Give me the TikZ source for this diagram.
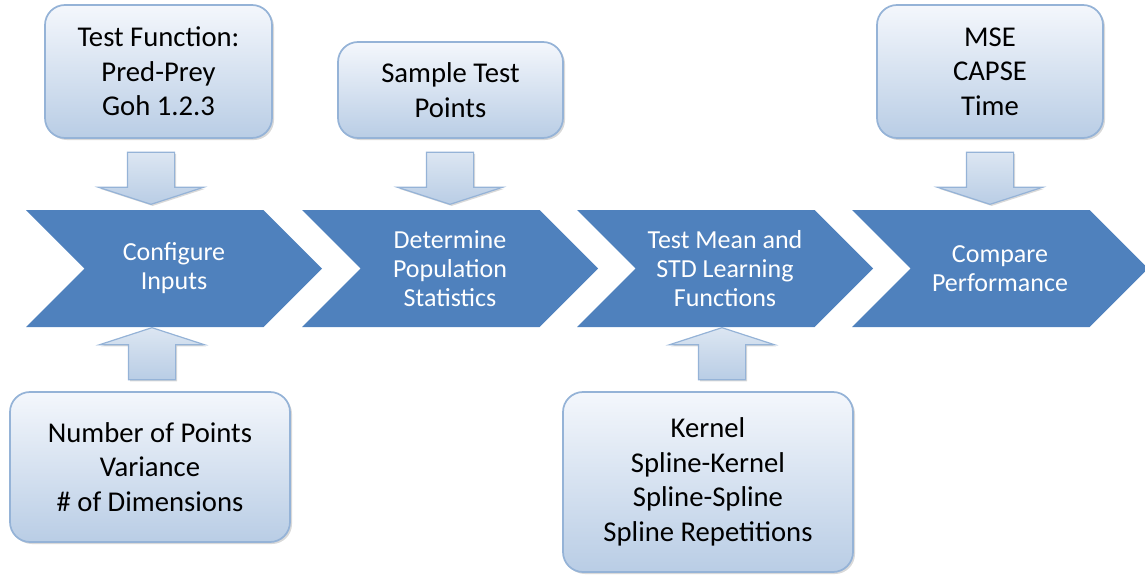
\documentclass[tikz,border=0pt]{standalone}
\usepackage{fontspec}
\setmainfont{Carlito}
\usetikzlibrary{shapes.arrows,shapes.symbols,shadows}
\definecolor{chevblue}{HTML}{4F81BD}
\definecolor{boxline}{HTML}{95B3D7}
\definecolor{boxtop}{HTML}{F4F7FC}
\definecolor{boxbot}{HTML}{B9CDE5}
\definecolor{arrtop}{HTML}{DCE6F2}

\tikzset{
	stage/.style={signal, signal from=west, signal to=east, signal pointer angle=90,
		fill=chevblue, text=white, inner sep=0pt, minimum width=222pt, minimum height=87.75pt,
		align=center, font=\fontsize{19.5}{21.75}\selectfont},
	infobox/.style={rectangle, rounded corners=15pt, draw=boxline, line width=1.3pt,
		top color=boxtop, bottom color=boxbot,
		drop shadow={shadow xshift=1.5pt, shadow yshift=-1.5pt, opacity=0.3},
		align=center, font=\fontsize{21.5}{26}\selectfont},
	blockarrow/.style={single arrow, draw=boxline, line width=0.9pt, inner sep=0pt,
		top color=arrtop, bottom color=boxbot,
		drop shadow={shadow xshift=1.2pt, shadow yshift=-1.2pt, opacity=0.3},
		minimum height=39pt, minimum width=78pt,
		single arrow head extend=21.75pt, single arrow tip angle=144}
}
% shaft of a block arrow
\newcommand{\shaft}{\rule{34.5pt}{0pt}}

\begin{document}
\begin{tikzpicture}[x=0.75pt, y=-0.75pt]
	%%%%% START %%%%%
	\useasboundingbox (0, 0) rectangle (1145, 575);
	
	% process steps
	\node[stage] (cfg) at (174, 268.5) {Configure\\Inputs};
	\node[stage] (dps) at (450, 268.5) {Determine\\Population\\Statistics};
	\node[stage] (tml) at (725, 268.5) {Test Mean and\\STD Learning\\Functions};
	\node[stage] (cmp) at (1000, 268.5) {Compare\\Performance};
	
	% inputs
	\node[infobox, minimum width=170.25pt, minimum height=99.75pt] (tfun) at (158.5, 71.5) {Test Function:\\Pred-Prey\\Goh 1.2.3};
	\node[infobox, minimum width=168.75pt, minimum height=72pt] (samp) at (450.5, 90) {Sample Test\\Points};
	\node[infobox, minimum width=169.5pt, minimum height=99.75pt] (metr) at (990, 71.5) {MSE\\CAPSE\\Time};
	\node[infobox, minimum width=210pt, minimum height=112.5pt] (npts) at (150, 467) {Number of Points\\Variance\\\# of Dimensions};
	\node[infobox, minimum width=217.5pt, minimum height=135pt] (kern) at (708, 482) {Kernel\\Spline-Kernel\\Spline-Spline\\Spline Repetitions};
	
	% feeds
	\node[blockarrow, shape border rotate=270] (tfun-cfg) at (151, 174.5) {\shaft};
	\node[blockarrow, shape border rotate=270] (samp-dps) at (450, 174.5) {\shaft};
	\node[blockarrow, shape border rotate=270] (metr-cmp) at (990, 174.5) {\shaft};
	\node[blockarrow, shape border rotate=90] (npts-cfg) at (152, 357.5) {\shaft};
	\node[blockarrow, shape border rotate=90] (kern-tml) at (722, 357.5) {\shaft};
	
	%%%%% END %%%%%
\end{tikzpicture}
\end{document}
